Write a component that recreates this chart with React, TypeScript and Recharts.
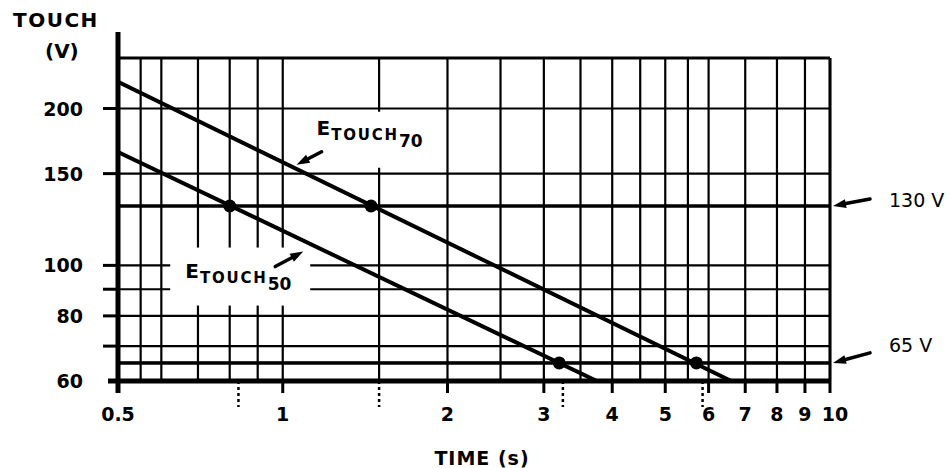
import {
  ComposedChart,
  Line,
  Scatter,
  XAxis,
  YAxis,
  CartesianGrid,
  ReferenceLine,
  ReferenceDot,
} from 'recharts';

// E_TOUCH curves (time in s, voltage in V)
const touch70 = [
  { t: 0.5, v: 225 },
  { t: 6.6, v: 60 },
];
const touch50 = [
  { t: 0.5, v: 165 },
  { t: 3.75, v: 60 },
];

// where the curves cross the 130 V and 65 V limits
const crossings = [
  { t: 0.8, v: 130 },
  { t: 1.45, v: 130 },
  { t: 3.2, v: 65 },
  { t: 5.7, v: 65 },
];

const limits = [
  { v: 130, text: '130 V' },
  { v: 65, text: '65 V' },
];

const xTicks = [0.5, 0.83, 1, 1.5, 2, 3, 3.25, 4, 5, 5.85, 6, 7, 8, 9, 10];
const xDotted = [0.83, 1.5, 3.25, 5.85];
const xGrid = [0.55, 0.6, 0.7, 0.8, 0.9, 1, 1.5, 2, 2.5, 3, 3.5, 4, 4.5, 5, 5.5, 6, 7, 8, 9, 10];

const yTicks = [60, 70, 80, 90, 100, 150, 200, 250];
const yLabels = [60, 80, 100, 150, 200];
const yGrid = [60, 65, 70, 80, 90, 100, 130, 150, 200, 250];

const FONT = '"DejaVu Sans", sans-serif';

const Arrow = ({ x1, y1, x2, y2 }: { x1: number; y1: number; x2: number; y2: number }) => {
  const a = Math.atan2(y2 - y1, x2 - x1);
  const len = 13;
  const w = 4.5;
  const bx = x2 - len * Math.cos(a);
  const by = y2 - len * Math.sin(a);
  const px = -Math.sin(a) * w;
  const py = Math.cos(a) * w;
  return (
    <g>
      <line x1={x1} y1={y1} x2={bx} y2={by} stroke="#000" strokeWidth={3.5} strokeLinecap="round" />
      <polygon points={`${x2},${y2} ${bx + px},${by + py} ${bx - px},${by - py}`} fill="#000" />
    </g>
  );
};

const XTick = (props: any) => {
  const { x, y, payload } = props;
  const v = payload.value;
  if (xDotted.includes(v)) {
    return <line x1={x} x2={x} y1={y} y2={y + 26} stroke="#000" strokeWidth={2.5} strokeDasharray="3 3" />;
  }
  return (
    <g>
      <line x1={x} x2={x} y1={y} y2={y + 12} stroke="#000" strokeWidth={v === 0.5 ? 5 : 3} />
      <text
        x={x + (v === 10 ? 5 : 0)}
        y={y + 40}
        textAnchor="middle"
        fontFamily={FONT}
        fontWeight="bold"
        fontSize={19}
        fill="#000"
      >
        {String(v)}
      </text>
    </g>
  );
};

const YTick = (props: any) => {
  const { x, y, payload } = props;
  const v = payload.value;
  if (v === 250) {
    return <line x1={x} x2={x} y1={y} y2={y - 26} stroke="#000" strokeWidth={5} />;
  }
  return (
    <g>
      <line x1={x - (v === 60 ? 10 : 15)} x2={x} y1={y} y2={y} stroke="#000" strokeWidth={v === 60 ? 5 : 3} />
      {yLabels.includes(v) && (
        <text x={x - 35} y={y + 7} textAnchor="end" fontFamily={FONT} fontWeight="bold" fontSize={19} fill="#000">
          {v}
        </text>
      )}
    </g>
  );
};

const YTitle = (props: any) => {
  const vb = props.viewBox || { x: 0, y: 58 };
  return (
    <g fontFamily={FONT} fontWeight="bold" fill="#000">
      <text x={vb.x + 13} y={vb.y - 31} fontSize={20} letterSpacing={1.5}>
        TOUCH
      </text>
      <text x={vb.x + 45} y={vb.y} fontSize={20}>
        (V)
      </text>
    </g>
  );
};

const XTitle = (props: any) => {
  const vb = props.viewBox || { x: 118, y: 381, width: 712 };
  return (
    <text
      x={vb.x + vb.width / 2 + 8}
      y={vb.y + 84}
      textAnchor="middle"
      fontFamily={FONT}
      fontWeight="bold"
      fontSize={19}
      letterSpacing={1}
      fill="#000"
    >
      TIME (s)
    </text>
  );
};

const LimitLabel = (props: any) => {
  const { viewBox, text, dText, dArrow } = props;
  const x = viewBox.x + viewBox.width;
  const y = viewBox.y;
  return (
    <g>
      <Arrow x1={x + 40} y1={y + dArrow} x2={x + 3} y2={y} />
      <text x={x + 59} y={y + dText} fontFamily={FONT} fontSize={19} fill="#000">
        {text}
      </text>
    </g>
  );
};

const CurveName = ({ x, y, sub }: { x: number; y: number; sub: string }) => (
  <text x={x} y={y} fontFamily={FONT} fontWeight="bold" fill="#000">
    <tspan fontSize={20}>E</tspan>
    <tspan fontSize={15} dx={1} dy={5} letterSpacing={1.8}>
      TOUCH
    </tspan>
    <tspan fontSize={17} dy={7}>
      {sub}
    </tspan>
  </text>
);

const Label70 = (props: any) => {
  const { cx, cy } = props;
  return (
    <g>
      <rect x={cx + 3} y={cy - 53} width={140} height={56} fill="#fff" />
      <CurveName x={cx + 20} y={cy - 30} sub="70" />
      <Arrow x1={cx + 25} y1={cy - 13} x2={cx} y2={cy} />
    </g>
  );
};

const Label50 = (props: any) => {
  const { cx, cy } = props;
  return (
    <g>
      <rect x={cx - 133} y={cy - 4} width={140} height={58} fill="#fff" />
      <CurveName x={cx - 118} y={cy + 26} sub="50" />
      <Arrow x1={cx - 28} y1={cy + 15} x2={cx} y2={cy} />
    </g>
  );
};

const App = () => {
  return (
    <div style={{ position: 'absolute', left: 0, top: 0 }}>
      <ComposedChart width={950} height={468} margin={{ top: 58, right: 120, bottom: 0, left: 0 }}>
        <CartesianGrid
          stroke="#000"
          strokeWidth={2.2}
          horizontalValues={yGrid}
          verticalValues={xGrid}
        />
        <XAxis
          dataKey="t"
          type="number"
          scale="log"
          domain={[0.5, 10]}
          allowDataOverflow
          ticks={xTicks}
          interval={0}
          height={87}
          tickSize={0}
          tickMargin={0}
          tickLine={false}
          axisLine={{ stroke: '#000', strokeWidth: 5 }}
          tick={<XTick />}
          label={<XTitle />}
        />
        <YAxis
          dataKey="v"
          type="number"
          scale="log"
          domain={[60, 250]}
          allowDataOverflow
          ticks={yTicks}
          interval={0}
          width={118}
          tickSize={0}
          tickMargin={0}
          tickLine={false}
          axisLine={{ stroke: '#000', strokeWidth: 5 }}
          tick={<YTick />}
          label={<YTitle />}
        />
        <ReferenceLine y={250} stroke="#000" strokeWidth={3} />
        <ReferenceLine x={10} stroke="#000" strokeWidth={3} />
        {limits.map((l) => (
          <ReferenceLine
            key={l.v}
            y={l.v}
            stroke="#000"
            strokeWidth={3.5}
            label={<LimitLabel text={l.text} dText={l.v === 130 ? 1 : -11} dArrow={l.v === 130 ? -7 : -10} />}
          />
        ))}
        <ReferenceDot x={1.06} y={156} r={0} shape={<Label70 />} />
        <ReferenceDot x={1.09} y={106.3} r={0} shape={<Label50 />} />
        <Line data={touch70} dataKey="v" type="linear" stroke="#000" strokeWidth={4} dot={false} isAnimationActive={false} />
        <Line data={touch50} dataKey="v" type="linear" stroke="#000" strokeWidth={4} dot={false} isAnimationActive={false} />
        <Scatter
          data={crossings}
          dataKey="v"
          fill="#000"
          isAnimationActive={false}
          shape={(p: any) => <circle cx={p.cx} cy={p.cy} r={6.5} fill="#000" />}
        />
      </ComposedChart>
    </div>
  );
};

export default App;
